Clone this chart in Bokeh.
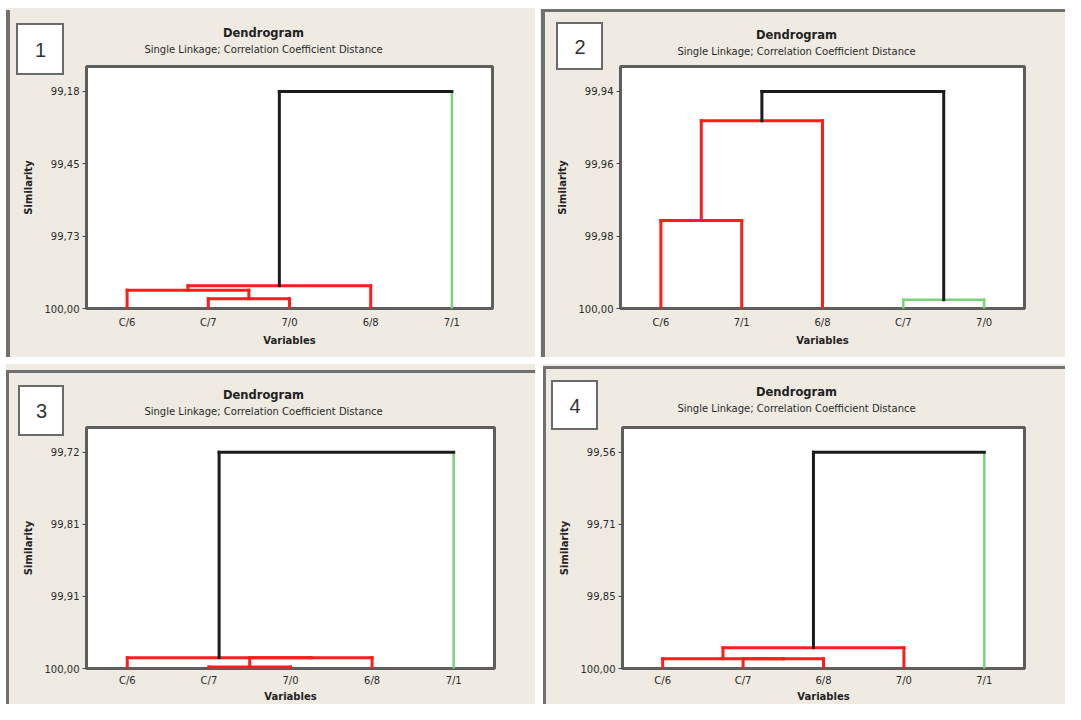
from bokeh.plotting import figure
from bokeh.models import ColumnDataSource, Range1d, FixedTicker, CustomJSTickFormatter, Label
from bokeh.layouts import row, column
from bokeh.embed import file_html
from bokeh.resources import INLINE

# ---------------- data ----------------
TITLE = "Dendrogram"
SUBTITLE = "Single Linkage; Correlation Coefficient Distance"
X_LABEL = "Variables"
Y_LABEL = "Similarity"

# Panel 1
p1_labels = ["C/6", "C/7", "7/0", "6/8", "7/1"]
p1_leaf_colors = ["red", "red", "red", "red", "green"]
p1_left = [1, 0, 6, 7]
p1_right = [2, 5, 3, 4]
p1_similarity = [99.963, 99.931, 99.914, 99.18]
p1_merge_colors = ["red", "red", "red", "black"]
p1_ticks = [99.18, 99.4533, 99.7267, 100.00]

# Panel 2
p2_labels = ["C/6", "7/1", "6/8", "C/7", "7/0"]
p2_leaf_colors = ["red", "red", "red", "green", "green"]
p2_left = [0, 5, 3, 6]
p2_right = [1, 2, 4, 7]
p2_similarity = [99.9757, 99.9481, 99.9976, 99.94]
p2_merge_colors = ["red", "red", "green", "black"]
p2_ticks = [99.94, 99.96, 99.98, 100.00]

# Panel 3
p3_labels = ["C/6", "C/7", "7/0", "6/8", "7/1"]
p3_leaf_colors = ["red", "red", "red", "red", "green"]
p3_left = [1, 5, 0, 7]
p3_right = [2, 3, 6, 4]
p3_similarity = [99.998, 99.986, 99.986, 99.72]
p3_merge_colors = ["red", "red", "red", "black"]
p3_ticks = [99.72, 99.8133, 99.9067, 100.00]

# Panel 4
p4_labels = ["C/6", "C/7", "6/8", "7/0", "7/1"]
p4_leaf_colors = ["red", "red", "red", "red", "green"]
p4_left = [1, 0, 6, 7]
p4_right = [2, 5, 3, 4]
p4_similarity = [99.980, 99.980, 99.958, 99.56]
p4_merge_colors = ["red", "red", "red", "black"]
p4_ticks = [99.56, 99.7067, 99.8533, 100.00]

# ---------------- styling ----------------
COLORS = {"red": "#ff1c1c", "green": "#78d478", "black": "#1c1c1c"}
WIDTHS = {"red": 3, "green": 2.5, "black": 3}
BEIGE = "#efebe2"
FRAME = "#5e5e5e"
WIN = "#707070"
BOXC = "#6a6a6a"


def dendro_source(labels, leaf_colors, left, right, sim, mcolors):
    n = len(labels)
    xs = {i: i + 1.0 for i in range(n)}
    hs = {i: 100.0 for i in range(n)}
    d = dict(x0=[], y0=[], x1=[], y1=[], color=[], lw=[])

    def add(x0, y0, x1, y1, c):
        d["x0"].append(x0); d["y0"].append(y0)
        d["x1"].append(x1); d["y1"].append(y1)
        d["color"].append(COLORS[c]); d["lw"].append(WIDTHS[c])

    for k, (a, b, h, c) in enumerate(zip(left, right, sim, mcolors)):
        for ch in (a, b):
            col = leaf_colors[ch] if ch < n else c
            add(xs[ch], hs[ch], xs[ch], h, col)
        add(xs[a], h, xs[b], h, c)
        xs[n + k] = (xs[a] + xs[b]) / 2.0
        hs[n + k] = h
    return ColumnDataSource(d)


def css_bg(layers):
    g = "linear-gradient(%s,%s) %s/%s no-repeat"
    return ", ".join(g % (c, c, pos, size) for c, pos, size in layers) + ", " + BEIGE


def make_panel(num, labels, leaf_colors, left, right, sim, mcolors, ticks,
               w, h, bl, br, bt, bb, digit_xy, title_xy, layers, xstand):
    top = ticks[0]
    span = 100.0 - top
    p = figure(width=w, height=h, output_backend="svg", toolbar_location=None,
               x_range=Range1d(0.5, 5.5), y_range=Range1d(100.0, top - 0.115 * span),
               min_border_left=bl, min_border_right=br, min_border_top=bt,
               min_border_bottom=bb)
    p.styles = {"background": css_bg(layers)}
    p.border_fill_alpha = 0
    p.background_fill_color = "white"
    p.outline_line_color = FRAME
    p.outline_line_width = 3
    p.grid.visible = False
    p.title.visible = False

    src = dendro_source(labels, leaf_colors, left, right, sim, mcolors)
    p.segment("x0", "y0", "x1", "y1", source=src, line_color="color",
              line_width="lw", line_cap="square")

    # x axis
    xa = p.xaxis[0]
    xa.ticker = FixedTicker(ticks=list(range(1, len(labels) + 1)))
    xa.major_label_overrides = {i + 1: lab for i, lab in enumerate(labels)}
    xa.axis_line_color = None
    xa.major_tick_line_color = None
    xa.minor_tick_line_color = None
    xa.major_tick_out = 0
    xa.major_tick_in = 0
    xa.major_label_standoff = xstand[0]
    xa.major_label_text_font = "DejaVu Sans"
    xa.major_label_text_font_size = "10px"
    xa.major_label_text_color = "#2a2a2a"
    xa.axis_label = X_LABEL
    xa.axis_label_standoff = xstand[1]
    xa.axis_label_text_font = "DejaVu Sans"
    xa.axis_label_text_font_size = "10px"
    xa.axis_label_text_font_style = "bold"
    xa.axis_label_text_color = "#222222"

    # y axis
    ya = p.yaxis[0]
    ya.ticker = FixedTicker(ticks=ticks)
    ya.formatter = CustomJSTickFormatter(code="return tick.toFixed(2).replace('.', ',');")
    ya.axis_line_color = None
    ya.major_tick_line_color = "#444444"
    ya.major_tick_line_width = 1
    ya.minor_tick_line_color = None
    ya.major_tick_out = 4
    ya.major_tick_in = 0
    ya.major_label_standoff = 3
    ya.major_label_text_font = "DejaVu Sans"
    ya.major_label_text_font_size = "10px"
    ya.major_label_text_color = "#2a2a2a"
    ya.axis_label = Y_LABEL
    ya.axis_label_standoff = 8
    ya.axis_label_text_font = "DejaVu Sans"
    ya.axis_label_text_font_size = "10px"
    ya.axis_label_text_font_style = "bold"
    ya.axis_label_text_color = "#222222"

    # titles (canvas coordinates, placed in the side panel so they are not clipped)
    tx, ty = title_xy
    p.add_layout(Label(x=tx, y=ty, x_units="canvas", y_units="canvas", text=TITLE,
                       text_align="center", text_baseline="middle",
                       text_font="DejaVu Sans", text_font_size="11.5px",
                       text_font_style="bold", text_color="#222222"), "above")
    p.add_layout(Label(x=tx, y=ty + 17, x_units="canvas", y_units="canvas", text=SUBTITLE,
                       text_align="center", text_baseline="middle",
                       text_font="DejaVu Sans", text_font_size="10px",
                       text_color="#2a2a2a"), "above")
    dx, dy = digit_xy
    p.add_layout(Label(x=dx, y=dy, x_units="canvas", y_units="canvas", text=str(num),
                       text_align="center", text_baseline="middle",
                       text_font="Liberation Sans", text_font_size="20px",
                       text_color="#333333"), "right")
    return p


W = "#ffffff"
bg1 = [(W, "0 0", "6px 100%"), (W, "0 0", "100% 8px"), (WIN, "6px 10px", "4px 100%"),
       (W, "18px 25px", "44px 48px"), (BOXC, "16px 23px", "48px 52px")]
bg2 = [(W, "0 0", "100% 9px"), (WIN, "1px 9px", "100% 3px"), (WIN, "1px 9px", "4px 100%"),
       (W, "18px 24px", "43px 44px"), (BOXC, "16px 22px", "47px 48px")]
bg3 = [(W, "0 0", "6px 100%"), (WIN, "6px 6px", "100% 3px"), (WIN, "6px 6px", "3px 100%"),
       (W, "20px 23px", "42px 47px"), (BOXC, "18px 21px", "46px 51px")]
bg4 = [(W, "0 0", "3px 100%"), (WIN, "3px 2px", "100% 3px"), (WIN, "3px 2px", "3px 100%"),
       (W, "13px 18px", "43px 46px"), (BOXC, "11px 16px", "47px 50px")]

p1 = make_panel(1, p1_labels, p1_leaf_colors, p1_left, p1_right, p1_similarity,
                p1_merge_colors, p1_ticks, 535, 357, 86, 43, 64, 49,
                (40, 49), (263, 32), bg1, (8, 4))
p2 = make_panel(2, p2_labels, p2_leaf_colors, p2_left, p2_right, p2_similarity,
                p2_merge_colors, p2_ticks, 525, 357, 80, 41, 66, 49,
                (39.5, 46), (256, 34), bg2, (8, 4))
p3 = make_panel(3, p3_labels, p3_leaf_colors, p3_left, p3_right, p3_similarity,
                p3_merge_colors, p3_ticks, 535, 340, 86, 41, 63, 33,
                (41, 46.5), (263, 30), bg3, (6, 2))
p4 = make_panel(4, p4_labels, p4_leaf_colors, p4_left, p4_right, p4_similarity,
                p4_merge_colors, p4_ticks, 525, 340, 82, 41, 60, 34,
                (34.5, 41), (256, 27), bg4, (6, 2))

layout = column(row(p1, p2, spacing=5), row(p3, p4, spacing=5), spacing=7)

open("out.html", "w").write(file_html(layout, INLINE))
